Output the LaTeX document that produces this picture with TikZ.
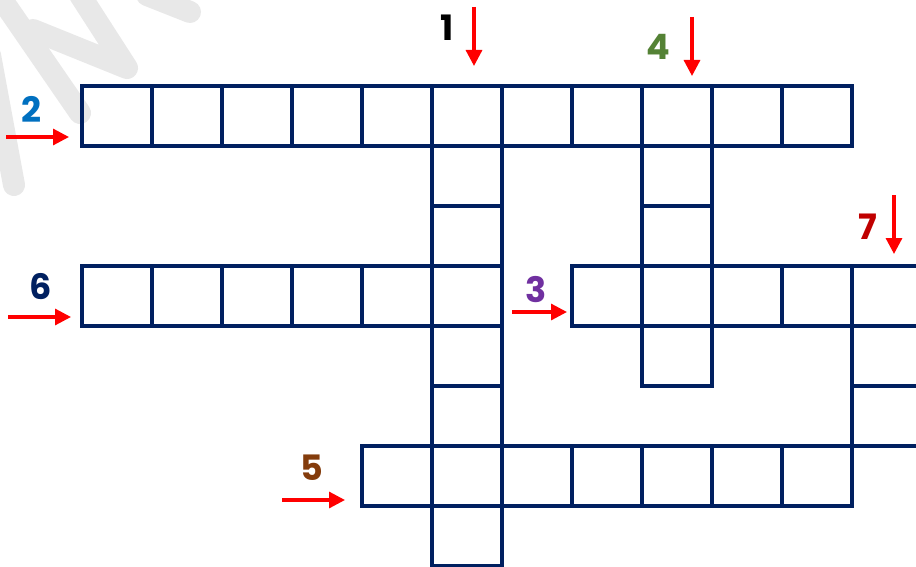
\documentclass[tikz,border=0pt]{standalone}
\usepackage{fontspec}
\setmainfont{Poppins}
\usetikzlibrary{arrows.meta}
\definecolor{gridnavy}{RGB}{0,32,96}
\definecolor{numblue}{RGB}{0,112,192}
\definecolor{numpurple}{RGB}{112,48,160}
\definecolor{numbrown}{RGB}{132,60,12}
\definecolor{numgreen}{RGB}{84,130,53}
\definecolor{numred}{RGB}{192,0,0}
\definecolor{arrred}{RGB}{255,0,0}
\definecolor{wmgrey}{RGB}{232,232,232}
\tikzset{
  cell/.style={draw=gridnavy, line width=3.5pt, minimum width=70pt, minimum height=60pt, inner sep=0pt, outer sep=0pt},
  redarrow/.style={draw=arrred, line width=3.2pt, -{Triangle[length=16pt,width=16pt]}},
  numlabel/.style={font=\fontsize{35}{38}\selectfont\bfseries, inner sep=0pt},
  wmark/.style={draw=wmgrey, line width=22pt, line cap=round, line join=round}
}
\begin{document}
\begin{tikzpicture}[x=1pt,y=-1pt]
\clip (0,0) rectangle (916,567);
\fill[white] (0,0) rectangle (916,567);
% watermark
\draw[wmark] (7,7) -- (80,113);
\draw[wmark] (33,30) -- (127,68) -- (80,-5);
\draw[wmark] (147,-5) -- (190,12);
\draw[wmark] (-10,55) -- (14,185);
% word 2 : row 0, columns 0..10
\foreach \c in {0,...,10} {\node[cell] (a-\c) at ({117+70*\c},116) {};}
% word 1 : column 5, rows 1..7
\foreach \r in {1,...,7} {\node[cell] (b-\r) at (467,{116+60*\r}) {};}
% word 4 : column 8, rows 1..4
\foreach \r in {1,...,4} {\node[cell] (d-\r) at (677,{116+60*\r}) {};}
% word 6 : row 3, columns 0..4
\foreach \c in {0,...,4} {\node[cell] (f-\c) at ({117+70*\c},296) {};}
% word 3 : row 3, columns 7,9,10,11
\foreach \c in {7,9,10,11} {\node[cell] (g-\c) at ({117+70*\c},296) {};}
% word 7 : column 11, rows 4..5
\foreach \r in {4,5} {\node[cell] (h-\r) at (887,{116+60*\r}) {};}
% word 5 : row 6, columns 4,6..10
\foreach \c in {4,6,7,8,9,10} {\node[cell] (e-\c) at ({117+70*\c},476) {};}
% numbers
\node[numlabel, text=black] (n1) at (447,28) {1};
\node[numlabel, text=numblue] (n2) at (31,109) {2};
\node[numlabel, text=numpurple] (n3) at (536,290) {3};
\node[numlabel, text=numgreen] (n4) at (658,47) {4};
\node[numlabel, text=numbrown] (n5) at (312,468) {5};
\node[numlabel, text=gridnavy] (n6) at (41,287) {6};
\node[numlabel, text=numred] (n7) at (868,227) {7};
% arrows
\coordinate (s1) at (474,7);   \coordinate (t1) at (474,66);
\coordinate (s4) at (692,17);  \coordinate (t4) at (692,76);
\coordinate (s7) at (894,195); \coordinate (t7) at (894,254);
\coordinate (s2) at (6,137);   \coordinate (t2) at (69,137);
\coordinate (s6) at (8,317);   \coordinate (t6) at (71,317);
\coordinate (s3) at (512,312); \coordinate (t3) at (567,312);
\coordinate (s5) at (282,500); \coordinate (t5) at (345,500);
\foreach \k in {1,...,7} {\draw[redarrow] (s\k) -- (t\k);}
\end{tikzpicture}
\end{document}
